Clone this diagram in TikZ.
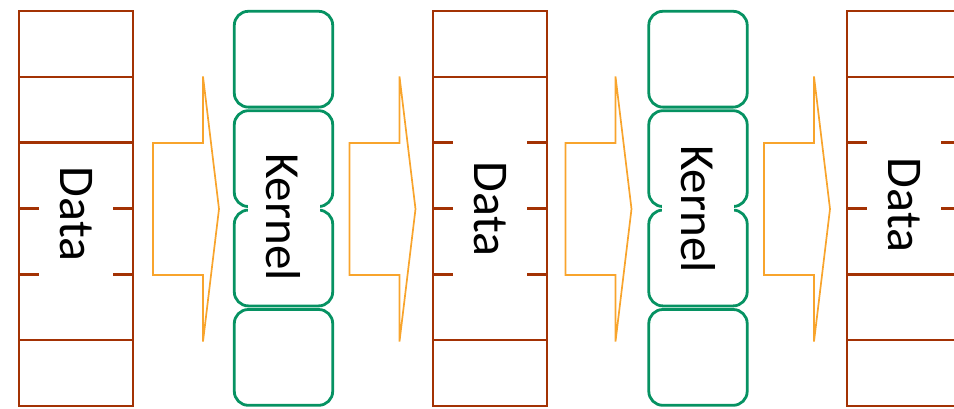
\documentclass[tikz,border=0pt]{standalone}
\usepackage{fontspec}
\setmainfont{Carlito}
\usetikzlibrary{positioning}

\definecolor{databrown}{RGB}{163,50,4}
\definecolor{kernelgreen}{RGB}{6,146,98}
\definecolor{flowyellow}{RGB}{248,164,44}

\begin{document}
\begin{tikzpicture}[x=1pt,y=-1pt,
    datacell/.style={draw=databrown,line width=2.5pt,minimum width=114pt,minimum height=65.83pt,inner sep=0pt},
    kernelcell/.style={draw=kernelgreen,line width=2.8pt,rounded corners=14pt,minimum width=98.4pt,minimum height=95.8pt,inner sep=0pt},
    datalabel/.style={fill=white,rotate=-90,inner sep=0pt,minimum width=136pt,minimum height=74pt,font=\fontsize{50}{54}\selectfont},
    kernellabel/.style={fill=white,rotate=-90,inner sep=0pt,minimum width=150pt,minimum height=72pt,font=\fontsize{49}{53}\selectfont},
    flowarrow/.style={draw=flowyellow,line width=1.7pt,line join=miter}]
  \useasboundingbox (0,0) rectangle (954,408);

  % data columns
  \foreach \c/\x in {1/76,2/490,3/904}
    \foreach \i in {0,...,5}
      \node[datacell] (data\c-\i) at (\x,{43.9+65.83*\i}) {};

  % kernel columns
  \foreach \c/\x in {1/283.5,2/698}
    \foreach \i in {0,...,3}
      \node[kernelcell] (kernel\c-\i) at (\x,{59.2+99.4*\i}) {};

  % labels
  \node[datalabel] (datatext1) at (76,214) {Data};
  \node[datalabel] (datatext2) at (490,209) {Data};
  \node[datalabel] (datatext3) at (904,205) {Data};
  \node[kernellabel] (kerneltext1) at (283.5,217) {Kernel};
  \node[kernellabel] (kerneltext2) at (698,209) {Kernel};

  % block arrows
  \coordinate (arrow1) at (186,209);
  \coordinate (arrow2) at (382.5,209);
  \coordinate (arrow3) at (598.5,209);
  \coordinate (arrow4) at (797,209);
  \foreach \a in {1,...,4}
    \draw[flowarrow,shift={(arrow\a)}] (-33,-66) -- (17,-66) -- (17,-132.5) -- (33,0)
      -- (17,132.5) -- (17,66) -- (-33,66) -- cycle;
\end{tikzpicture}
\end{document}
